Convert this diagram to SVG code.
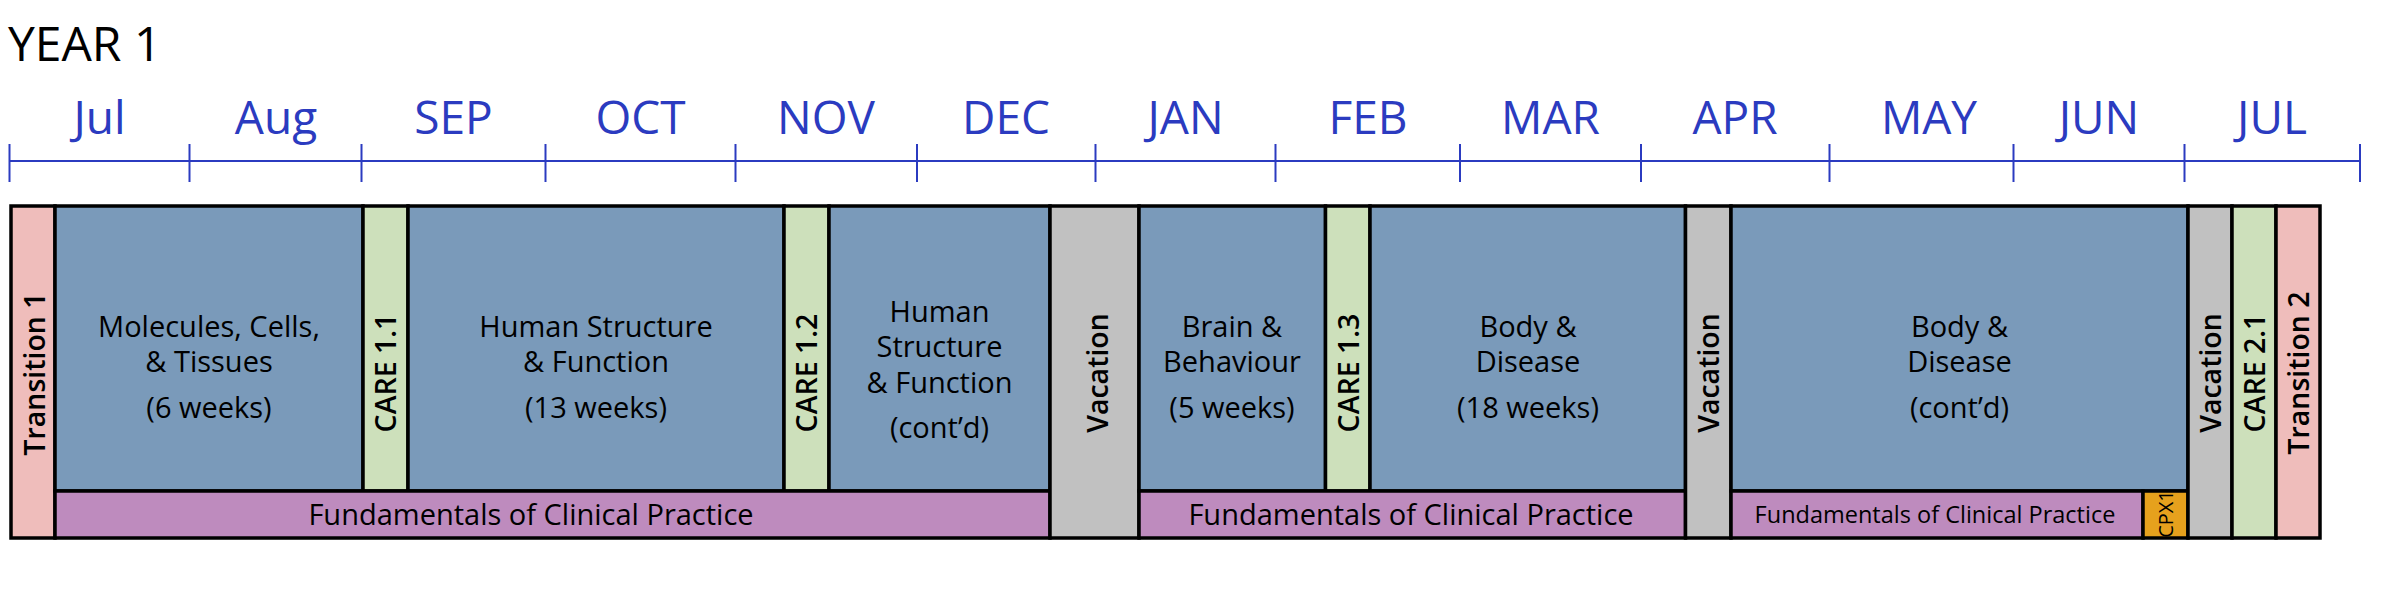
<svg xmlns="http://www.w3.org/2000/svg" width="2400" height="612" viewBox="0 0 2400 612">
<style>
  text { font-family: "Open Sans", "Noto Sans", "Liberation Sans", sans-serif; fill: #000; }
  .title { font-size: 48px; }
  .month { font-size: 46px; fill: #2B3BC0; text-anchor: middle; }
  .axis { stroke: #2B3BC0; stroke-width: 2; fill: none; }
  .blk { stroke: #000; stroke-width: 3.5; }
  .blue { fill: #7A9ABA; }
  .green { fill: #CDE0BB; }
  .pink { fill: #EFBDBB; }
  .gray { fill: #C1C1C1; }
  .purple { fill: #BE8BBE; }
  .orange { fill: #E6A11D; }
  .lbl { font-size: 29px; text-anchor: middle; }
  .vlbl { font-size: 28.5px; font-weight: 600; text-anchor: middle; }
  .fcp { font-size: 29px; text-anchor: middle; }
  .fcps { font-size: 23.5px; text-anchor: middle; }
  .cpx { font-size: 20px; text-anchor: middle; }
</style>

<text class="title" x="8" y="61">YEAR 1</text>

<g id="timeline">
  <line class="axis" x1="9.5" y1="161" x2="2360" y2="161"/>
  <g class="axis">
    <line x1="9.5" y1="144" x2="9.5" y2="182"/>
    <line x1="189.5" y1="144" x2="189.5" y2="182"/>
    <line x1="361.5" y1="144" x2="361.5" y2="182"/>
    <line x1="545.5" y1="144" x2="545.5" y2="182"/>
    <line x1="735.5" y1="144" x2="735.5" y2="182"/>
    <line x1="917" y1="144" x2="917" y2="182"/>
    <line x1="1095.5" y1="144" x2="1095.5" y2="182"/>
    <line x1="1275.5" y1="144" x2="1275.5" y2="182"/>
    <line x1="1460" y1="144" x2="1460" y2="182"/>
    <line x1="1641" y1="144" x2="1641" y2="182"/>
    <line x1="1829.5" y1="144" x2="1829.5" y2="182"/>
    <line x1="2013.5" y1="144" x2="2013.5" y2="182"/>
    <line x1="2184.5" y1="144" x2="2184.5" y2="182"/>
    <line x1="2360" y1="144" x2="2360" y2="182"/>
  </g>
  <text class="month" x="99.5" y="134">Jul</text>
  <text class="month" x="276" y="134">Aug</text>
  <text class="month" x="453.5" y="134">SEP</text>
  <text class="month" x="640.5" y="134">OCT</text>
  <text class="month" x="826" y="134">NOV</text>
  <text class="month" x="1006" y="134">DEC</text>
  <text class="month" x="1185.5" y="134">JAN</text>
  <text class="month" x="1368" y="134">FEB</text>
  <text class="month" x="1550.5" y="134">MAR</text>
  <text class="month" x="1735" y="134">APR</text>
  <text class="month" x="1929" y="134">MAY</text>
  <text class="month" x="2099" y="134">JUN</text>
  <text class="month" x="2272" y="134">JUL</text>
</g>

<g id="transition1">
  <rect class="blk pink" x="11" y="206" width="44" height="332"/>
  <text class="vlbl" transform="translate(34,374) rotate(-90)" y="10.5">Transition 1</text>
</g>
<g id="mct">
  <rect class="blk blue" x="55" y="206" width="308" height="285"/>
  <text class="lbl" x="209" y="337">Molecules, Cells,</text>
  <text class="lbl" x="209" y="372">&amp; Tissues</text>
  <text class="lbl" x="209" y="418">(6 weeks)</text>
</g>
<g id="care11">
  <rect class="blk green" x="363" y="206" width="45" height="285"/>
  <text class="vlbl" transform="translate(385.5,373) rotate(-90)" y="10.5">CARE 1.1</text>
</g>
<g id="hsf">
  <rect class="blk blue" x="408" y="206" width="376" height="285"/>
  <text class="lbl" x="596" y="337">Human Structure</text>
  <text class="lbl" x="596" y="372">&amp; Function</text>
  <text class="lbl" x="596" y="418">(13 weeks)</text>
</g>
<g id="care12">
  <rect class="blk green" x="784" y="206" width="45" height="285"/>
  <text class="vlbl" transform="translate(806.5,373) rotate(-90)" y="10.5">CARE 1.2</text>
</g>
<g id="hsf2">
  <rect class="blk blue" x="829" y="206" width="221" height="285"/>
  <text class="lbl" x="939.5" y="322">Human</text>
  <text class="lbl" x="939.5" y="357">Structure</text>
  <text class="lbl" x="939.5" y="393">&amp; Function</text>
  <text class="lbl" x="939.5" y="438">(cont’d)</text>
</g>
<g id="fcp1">
  <rect class="blk purple" x="55" y="491" width="995" height="47"/>
  <text class="fcp" x="531" y="525">Fundamentals of Clinical Practice</text>
</g>
<g id="vacation1">
  <rect class="blk gray" x="1050" y="206" width="89" height="332"/>
  <text class="vlbl" transform="translate(1097,373) rotate(-90)" y="10.5">Vacation</text>
</g>
<g id="brain">
  <rect class="blk blue" x="1139" y="206" width="186.5" height="285"/>
  <text class="lbl" x="1232" y="337">Brain &amp;</text>
  <text class="lbl" x="1232" y="372">Behaviour</text>
  <text class="lbl" x="1232" y="418">(5 weeks)</text>
</g>
<g id="care13">
  <rect class="blk green" x="1325.5" y="206" width="44.5" height="285"/>
  <text class="vlbl" transform="translate(1348,373) rotate(-90)" y="10.5">CARE 1.3</text>
</g>
<g id="body">
  <rect class="blk blue" x="1370" y="206" width="315.5" height="285"/>
  <text class="lbl" x="1528" y="337">Body &amp;</text>
  <text class="lbl" x="1528" y="372">Disease</text>
  <text class="lbl" x="1528" y="418">(18 weeks)</text>
</g>
<g id="fcp2">
  <rect class="blk purple" x="1139" y="491" width="546.5" height="47"/>
  <text class="fcp" x="1411" y="525">Fundamentals of Clinical Practice</text>
</g>
<g id="vacation2">
  <rect class="blk gray" x="1685.5" y="206" width="45.5" height="332"/>
  <text class="vlbl" transform="translate(1708,373) rotate(-90)" y="10.5">Vacation</text>
</g>
<g id="body2">
  <rect class="blk blue" x="1731" y="206" width="457" height="285"/>
  <text class="lbl" x="1959.5" y="337">Body &amp;</text>
  <text class="lbl" x="1959.5" y="372">Disease</text>
  <text class="lbl" x="1959.5" y="418">(cont’d)</text>
</g>
<g id="fcp3">
  <rect class="blk purple" x="1731" y="491" width="412" height="47"/>
  <text class="fcps" x="1935" y="523">Fundamentals of Clinical Practice</text>
</g>
<g id="cpx1">
  <rect class="blk orange" x="2143" y="491" width="45" height="47"/>
  <text class="cpx" transform="translate(2166,514) rotate(-90)" y="7">CPX1</text>
</g>
<g id="vacation3">
  <rect class="blk gray" x="2188" y="206" width="44" height="332"/>
  <text class="vlbl" transform="translate(2210,373) rotate(-90)" y="10.5">Vacation</text>
</g>
<g id="care21">
  <rect class="blk green" x="2232" y="206" width="44" height="332"/>
  <text class="vlbl" transform="translate(2254,373) rotate(-90)" y="10.5">CARE 2.1</text>
</g>
<g id="transition2">
  <rect class="blk pink" x="2276" y="206" width="44" height="332"/>
  <text class="vlbl" transform="translate(2298,373) rotate(-90)" y="10.5">Transition 2</text>
</g>
<g id="connectors"></g>
</svg>
